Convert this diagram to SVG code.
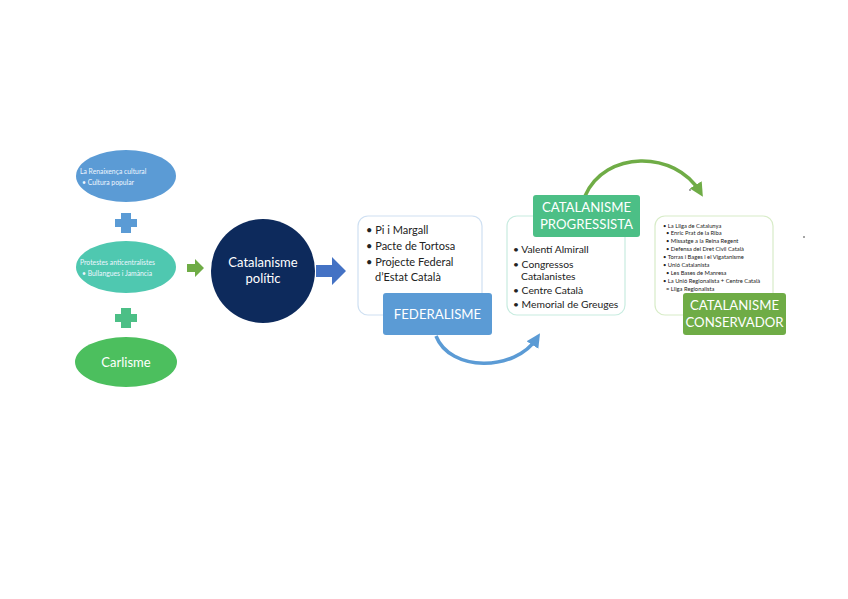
<svg xmlns="http://www.w3.org/2000/svg" width="848" height="599" viewBox="0 0 848 599">
<defs>
<style>
.t{font-family:Lato,"Open Sans","Liberation Sans",sans-serif;}
.w{fill:#ffffff;}
.d{fill:#222222;}
.sm{font-size:6.8px;fill:#eef6ff;}
.lst{font-size:11px;}
.tiny{font-size:5.8px;fill:#222;}
.lab{font-size:13.2px;fill:#fff;}
</style>
<marker id="ab" viewBox="0 0 10 10" refX="6" refY="5" markerWidth="4" markerHeight="4" orient="auto" markerUnits="strokeWidth"><path d="M0,0 L10,5 L0,10 Z" fill="#5b9bd5"/></marker>
<marker id="ag" viewBox="0 0 10 10" refX="6" refY="5" markerWidth="4" markerHeight="4" orient="auto" markerUnits="strokeWidth"><path d="M0,0 L10,5 L0,10 Z" fill="#6fac46"/></marker>
</defs>
<rect width="848" height="599" fill="#ffffff"/>

<g id="renaixenca">
<ellipse cx="126" cy="176" rx="50" ry="26" fill="#5b9bd5"/>
<text class="t sm" x="80" y="174">La Renaixença cultural</text>
<text class="t sm" x="82" y="185">• Cultura popular</text>
</g>
<g id="plus1"><path d="M121,213 h10 v6 h6 v8 h-6 v6 h-10 v-6 h-6 v-8 h6 z" fill="#5b9bd5"/></g>

<g id="protestes">
<ellipse cx="126" cy="267" rx="50" ry="26" fill="#4fc8b0"/>
<text class="t sm" x="80" y="265">Protestes anticentralistes</text>
<text class="t sm" x="82" y="276">• Bullangues i Jamància</text>
</g>
<g id="plus2"><path d="M121,308 h10 v6 h6 v8 h-6 v6 h-10 v-6 h-6 v-8 h6 z" fill="#4cbf86"/></g>

<g id="carlisme">
<ellipse cx="126" cy="362" rx="51" ry="25" fill="#4cbf5e"/>
<text class="t w" x="126" y="367" font-size="13" text-anchor="middle">Carlisme</text>
</g>

<g id="connectors">
<path d="M187,264 h8 v-5 l9,9 l-9,9 v-5 h-8 z" fill="#6fac46"/>
<path d="M316,265 h16 v-8 l14,14 l-14,14 v-8 h-16 z" fill="#4472c4"/>
<path d="M436,336 C450,372 515,372 537,338" fill="none" stroke="#5b9bd5" stroke-width="3.5" marker-end="url(#ab)"/>
<path d="M585,196 C605,150 675,150 700,192" fill="none" stroke="#6fac46" stroke-width="3.5" marker-end="url(#ag)"/>
</g>

<g id="catalanisme-politic">
<circle cx="263" cy="271" r="52" fill="#0d2a5c"/>
<text class="t w" x="263" y="267" font-size="13" text-anchor="middle">Catalanisme</text>
<text class="t w" x="263" y="283" font-size="13" text-anchor="middle">polític</text>
</g>

<g id="federalisme">
<rect x="358" y="216" width="124" height="99" rx="10" fill="#fff" stroke="#cfe0f2" stroke-width="1.2"/>
<text class="t d lst" x="366" y="234">• Pi i Margall</text>
<text class="t d lst" x="366" y="250">• Pacte de Tortosa</text>
<text class="t d lst" x="366" y="266">• Projecte Federal</text>
<text class="t d lst" x="375" y="281">d’Estat Català</text>
<rect x="383" y="293" width="109" height="42" rx="3" fill="#5b9bd5"/>
<text class="t lab" x="437.5" y="319" text-anchor="middle">FEDERALISME</text>
</g>

<g id="progressista">
<rect x="507" y="216" width="118" height="99" rx="10" fill="#fff" stroke="#c8ece0" stroke-width="1.2"/>
<text class="t d" font-size="10.3" x="513" y="253">• Valentí Almirall</text>
<text class="t d" font-size="10.3" x="513" y="268">• Congressos</text>
<text class="t d" font-size="10.3" x="521" y="280">Catalanistes</text>
<text class="t d" font-size="10.3" x="513" y="294">• Centre Català</text>
<text class="t d" font-size="10.3" x="513" y="308">• Memorial de Greuges</text>
<rect x="533" y="195" width="107" height="42" rx="3" fill="#4cbf86"/>
<text class="t lab" x="586.5" y="212" text-anchor="middle">CATALANISME</text>
<text class="t lab" x="586.5" y="229" text-anchor="middle">PROGRESSISTA</text>
</g>

<g id="conservador">
<rect x="655" y="216" width="118" height="99" rx="10" fill="#fff" stroke="#d8ecc8" stroke-width="1.2"/>
<text class="t tiny" x="663" y="228">• La Lliga de Catalunya</text>
<text class="t tiny" x="666" y="235">• Enric Prat de la Riba</text>
<text class="t tiny" x="666" y="243">• Missatge a la Reina Regent</text>
<text class="t tiny" x="666" y="251">• Defensa del Dret Civil Català</text>
<text class="t tiny" x="663" y="259">• Torras i Bages i el Vigatanisme</text>
<text class="t tiny" x="663" y="267">• Unió Catalanista</text>
<text class="t tiny" x="666" y="275">• Les Bases de Manresa</text>
<text class="t tiny" x="663" y="283">• La Unió Regionalista + Centre Català</text>
<text class="t tiny" x="666" y="291">= Lliga Regionalista</text>
<rect x="683" y="293" width="103" height="42" rx="3" fill="#6fac46"/>
<text class="t lab" x="734.5" y="310" text-anchor="middle">CATALANISME</text>
<text class="t lab" x="734.5" y="327" text-anchor="middle">CONSERVADOR</text>
</g>

<circle cx="690" cy="190" r="0.8" fill="#333"/>
<circle cx="804" cy="237" r="0.8" fill="#333"/>
</svg>
